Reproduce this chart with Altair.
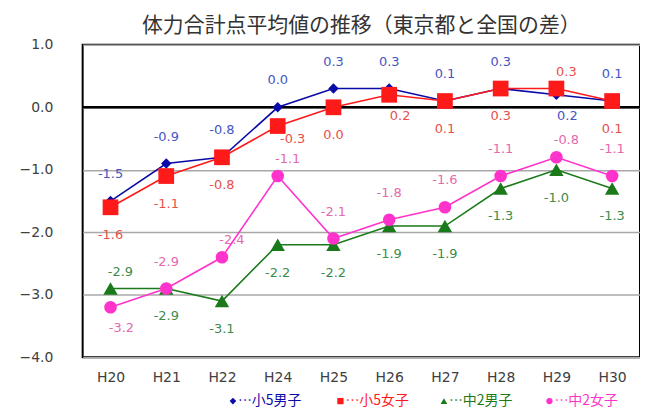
import altair as alt
import pandas as pd

years = ["H20", "H21", "H22", "H24", "H25", "H26", "H27", "H28", "H29", "H30"]
series_names = ["小5男子", "小5女子", "中2男子", "中2女子"]

sho5_boys = [-1.5, -0.9, -0.8, 0.0, 0.3, 0.3, 0.1, 0.3, 0.2, 0.1]
sho5_girls = [-1.6, -1.1, -0.8, -0.3, 0.0, 0.2, 0.1, 0.3, 0.3, 0.1]
chu2_boys = [-2.9, -2.9, -3.1, -2.2, -2.2, -1.9, -1.9, -1.3, -1.0, -1.3]
chu2_girls = [-3.2, -2.9, -2.4, -1.1, -2.1, -1.8, -1.6, -1.1, -0.8, -1.1]

# label placement: a = above, b = below, ar = above-right, br = below-right, r = right
pos_sho5_boys = ["a", "a", "a", "a", "a", "a", "a", "a", "br", "a"]
pos_sho5_girls = ["b", "b", "b", "r", "b", "br", "b", "b", "ar", "b"]
pos_chu2_boys = ["ar", "b", "b", "b", "b", "b", "b", "b", "b", "b"]
pos_chu2_girls = ["br", "a", "ar", "ar", "a", "a", "a", "a", "ar", "a"]

values = [sho5_boys, sho5_girls, chu2_boys, chu2_girls]
positions = [pos_sho5_boys, pos_sho5_girls, pos_chu2_boys, pos_chu2_girls]

rows = []
for s, vals, poss in zip(series_names, values, positions):
    for y, v, p in zip(years, vals, poss):
        rows.append({"year": y, "series": s, "value": v, "label": f"{v:.1f}", "pos": p})
df = pd.DataFrame(rows)

line_colors = ["#0A0AA8", "#FF1A1A", "#1A7A1A", "#FF33CC"]
label_colors = ["#4455C4", "#E8504A", "#3C8C4C", "#E46AAE"]
shapes = ["diamond", "square", "triangle-up", "circle"]
sizes = [110, 250, 210, 160]
legend_sizes = [45, 40, 45, 40]
offsets = {"a": (0, -27), "b": (0, 28), "ar": (10, -17), "br": (11, 21), "r": (15, 13)}

W, H = 560, 314

x_enc = alt.X("year:N", sort=years, scale=alt.Scale(type="point", padding=0.5),
              axis=alt.Axis(title=None, labelAngle=0, tickSize=0, domain=False, grid=False,
                            labelPadding=13, labelFontSize=14, labelFont="DejaVu Sans",
                            labelColor="#404040"))
y_enc = alt.Y("value:Q", scale=alt.Scale(domain=[-4, 1], nice=False, zero=False),
              axis=alt.Axis(title=None, values=[-4, -3, -2, -1, 0, 1], format=".1f",
                            grid=True, gridColor="#A8A8A8", gridWidth=1.5, tickSize=0,
                            domain=False, labelPadding=30, labelFontSize=14,
                            labelFont="DejaVu Sans", labelColor="#404040"))

base = alt.Chart(df)

zero_rule = alt.Chart(pd.DataFrame({"z": [0]})).mark_rule(color="black", strokeWidth=2.5).encode(
    y=alt.Y("z:Q")
)

layers = [zero_rule]
for i, s in enumerate(series_names):
    sub = base.transform_filter(alt.datum.series == s)
    layers.append(sub.mark_line(color=line_colors[i], strokeWidth=1.6).encode(x=x_enc, y=y_enc))
    layers.append(sub.mark_point(shape=shapes[i], size=sizes[i], filled=True, opacity=1,
                                 color=line_colors[i]).encode(x=x_enc, y=y_enc))

for i, s in enumerate(series_names):
    for p, (dx, dy) in offsets.items():
        layers.append(
            base.transform_filter((alt.datum.series == s) & (alt.datum.pos == p))
            .mark_text(dx=dx, dy=dy, color=label_colors[i], fontSize=13, font="DejaVu Sans",
                       baseline="middle", align="center")
            .encode(x=x_enc, y=y_enc, text="label:N")
        )

legend_texts = ["…小5男子", "…小5女子", "…中2男子", "…中2女子"]
legend_x = [147, 255, 359, 465]
dummy = pd.DataFrame({"a": [0]})
for i, t in enumerate(legend_texts):
    layers.append(
        alt.Chart(dummy).mark_point(shape=shapes[i], size=legend_sizes[i], filled=True,
                                    opacity=1, color=line_colors[i])
        .encode(x=alt.value(legend_x[i] + 4), y=alt.value(358))
    )
    layers.append(
        alt.Chart(dummy).mark_text(
            align="left", baseline="middle", fontSize=14, font="Noto Sans CJK JP",
            color=line_colors[i]
        ).encode(x=alt.value(legend_x[i] + 9), y=alt.value(358), text=alt.value(t))
    )

chart = alt.layer(*layers).properties(
    width=W, height=H,
    title=alt.TitleParams("体力合計点平均値の推移（東京都と全国の差）", font="Noto Sans CJK JP",
                          fontSize=21, fontWeight="normal", color="#333333", anchor="middle",
                          offset=2),
    padding={"left": 75, "top": 36, "right": 0, "bottom": 52},
    autosize=alt.AutoSizeParams(type="none"),
).configure_view(stroke="black", strokeWidth=2)

chart.save("out.html", embed_options={"renderer": "svg", "actions": False})
